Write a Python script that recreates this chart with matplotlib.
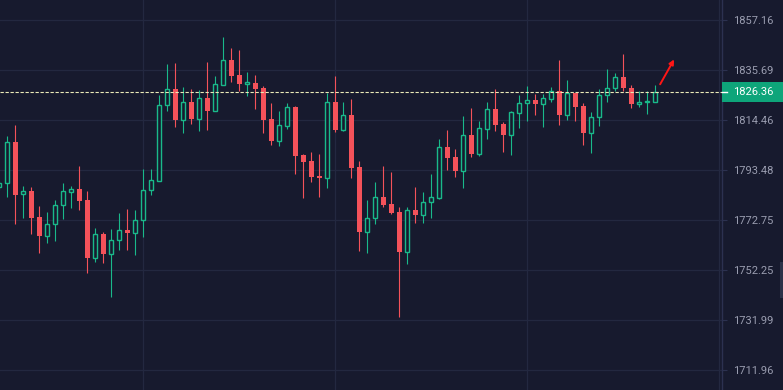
import numpy as np
import matplotlib
matplotlib.use("Agg")
import matplotlib.pyplot as plt
from matplotlib.patches import Rectangle
from matplotlib.ticker import NullLocator, FixedLocator, FixedFormatter

# ─── palette ─────────────────────────────────────────────────────────────────
C_BG    = "#171a2e"
C_GRID  = "#232840"
C_AXIS  = "#2c3150"
C_TEXT  = "#9a9db0"
C_UP    = "#19b98a"
C_DOWN  = "#f4525a"
C_LAST  = "#0ea57a"
FONT    = ["Roboto", "DejaVu Sans"]

# ─── data ────────────────────────────────────────────────────────────────────
candle_idx = list(range(-1, 82))
opens = [
    1786.3, 1788.0, 1805.1, 1783.4, 1784.6, 1774.0, 1766.3, 1771.0, 1778.8, 1784.5,
    1785.5, 1780.9, 1757.3, 1766.9, 1758.9, 1764.4, 1768.7, 1767.3, 1772.6, 1785.1,
    1789.0, 1820.7, 1827.5, 1814.6, 1822.0, 1815.0, 1823.8, 1818.4, 1829.4, 1840.0,
    1833.6, 1829.9, 1830.2, 1828.0, 1814.9, 1805.8, 1812.1, 1820.0, 1799.8, 1797.3,
    1791.1, 1790.3, 1822.1, 1810.4, 1816.6, 1794.7, 1768.0, 1773.4, 1782.3, 1779.4,
    1776.1, 1759.7, 1776.9, 1775.0, 1780.1, 1781.9, 1803.1, 1798.9, 1793.2, 1808.2,
    1800.3, 1810.8, 1819.1, 1812.8, 1808.3, 1817.6, 1821.5, 1822.9, 1821.4, 1823.5,
    1826.8, 1816.7, 1825.9, 1820.4, 1808.9, 1815.6, 1824.9, 1827.9, 1832.7, 1827.9,
    1821.4, 1822.0, 1822.0,
]
highs = [
    1788.9, 1807.8, 1812.4, 1786.8, 1786.4, 1778.5, 1776.2, 1781.0, 1788.0, 1786.8,
    1795.2, 1784.8, 1769.3, 1768.0, 1769.1, 1775.5, 1777.2, 1777.0, 1793.9, 1793.9,
    1824.9, 1838.3, 1838.7, 1828.5, 1827.5, 1827.1, 1839.1, 1833.1, 1850.0, 1845.1,
    1844.3, 1834.8, 1833.6, 1829.0, 1821.7, 1818.4, 1821.7, 1820.2, 1800.2, 1801.0,
    1800.2, 1825.9, 1833.1, 1822.1, 1823.4, 1797.4, 1781.0, 1788.5, 1795.2, 1792.8,
    1778.0, 1778.1, 1786.4, 1784.4, 1791.8, 1806.4, 1810.1, 1802.3, 1816.0, 1819.6,
    1814.2, 1822.0, 1827.6, 1813.7, 1818.4, 1825.1, 1829.0, 1825.4, 1825.6, 1828.5,
    1840.0, 1831.3, 1826.1, 1821.7, 1817.9, 1827.7, 1836.0, 1834.3, 1842.6, 1829.2,
    1826.6, 1826.6, 1829.4,
]
lows = [
    1785.2, 1782.4, 1771.0, 1773.7, 1767.1, 1759.3, 1763.2, 1764.0, 1773.3, 1777.9,
    1777.0, 1750.9, 1755.6, 1755.1, 1741.4, 1760.6, 1760.6, 1758.5, 1765.9, 1783.2,
    1788.8, 1818.4, 1811.6, 1809.1, 1812.9, 1810.0, 1810.3, 1818.2, 1829.2, 1830.7,
    1826.9, 1824.6, 1819.1, 1809.1, 1804.1, 1803.7, 1810.6, 1791.9, 1782.0, 1788.4,
    1782.4, 1786.1, 1809.6, 1810.0, 1790.0, 1760.2, 1759.3, 1771.1, 1778.3, 1775.4,
    1733.3, 1754.7, 1771.5, 1771.6, 1773.7, 1781.3, 1793.6, 1790.7, 1785.9, 1799.1,
    1799.5, 1806.6, 1810.0, 1801.2, 1799.9, 1811.2, 1814.2, 1816.6, 1811.6, 1822.2,
    1812.5, 1814.6, 1814.2, 1804.1, 1800.7, 1812.0, 1822.0, 1826.6, 1826.6, 1819.4,
    1819.9, 1817.0, 1821.9,
]
closes = [
    1788.0, 1805.1, 1783.2, 1784.6, 1773.7, 1766.3, 1771.0, 1778.8, 1784.6, 1785.5,
    1780.8, 1757.3, 1766.9, 1758.9, 1764.4, 1768.5, 1767.3, 1772.6, 1785.1, 1789.2,
    1820.7, 1827.5, 1814.6, 1822.0, 1815.0, 1823.7, 1818.3, 1829.7, 1840.0, 1833.3,
    1829.9, 1830.7, 1827.7, 1814.6, 1805.8, 1812.2, 1820.0, 1799.5, 1797.0, 1790.7,
    1790.3, 1822.1, 1810.4, 1816.5, 1794.4, 1768.0, 1773.4, 1782.2, 1779.1, 1775.8,
    1759.7, 1776.8, 1774.9, 1780.2, 1782.2, 1803.0, 1798.6, 1793.1, 1808.2, 1800.3,
    1811.0, 1819.1, 1812.4, 1808.3, 1817.9, 1821.5, 1822.9, 1821.4, 1823.8, 1826.8,
    1816.6, 1825.9, 1820.1, 1808.9, 1815.7, 1824.9, 1827.9, 1832.6, 1827.9, 1821.4,
    1822.0, 1822.5, 1826.36,
]
price_ticks = [1857.16, 1835.69, 1814.46, 1793.48, 1772.75, 1752.25, 1731.99, 1711.96]
last_price = 1826.36
time_grid = [16.92, 40.92, 64.92, 88.92]   # vertical session lines (candle index)


def make_figure(out):
    W, H = 783, 390
    fig = plt.figure(figsize=(W / 100, H / 100), dpi=100, facecolor=C_BG)
    ax = fig.add_axes([0, 0, 722 / W, 1])
    ax.set_facecolor(C_BG)

    # log price scale: ticks are 50 px apart
    ax.set_yscale("log")
    step = np.log(price_ticks[0] / price_ticks[-1]) / 350
    ax.set_ylim(price_ticks[-1] * np.exp(-20 * step), price_ticks[0] * np.exp(20 * step))
    ax.set_xlim(-7.33 / 8, (722 - 7.33) / 8)

    ax.yaxis.set_major_locator(FixedLocator(price_ticks))
    ax.yaxis.set_major_formatter(FixedFormatter([f"{v:.2f}" for v in price_ticks]))
    ax.yaxis.set_minor_locator(NullLocator())
    ax.yaxis.tick_right()
    ax.tick_params(axis="y", length=3.6, width=0.8, color=C_AXIS, colors=C_TEXT,
                   labelsize=8, pad=4)
    for lbl in ax.get_yticklabels():
        lbl.set_family(FONT)
    ax.set_xticks([])
    for s in ["top", "left", "bottom"]:
        ax.spines[s].set_visible(False)
    ax.spines["right"].set_color(C_AXIS)
    ax.spines["right"].set_linewidth(1.0)

    ax.grid(True, axis="y", color=C_GRID, linewidth=0.9, zorder=0)
    for gx in time_grid:
        ax.axvline(gx, color=C_GRID, linewidth=0.9, zorder=0)

    # ── candles ──────────────────────────────────────────────────────────────
    for x, o, h, l, c in zip(candle_idx, opens, highs, lows, closes):
        up = c >= o
        col = C_UP if up else C_DOWN
        ax.vlines(x, l, h, color=col, linewidth=0.8, zorder=2)
        lo, hi = min(o, c), max(o, c)
        if up:
            ax.add_patch(Rectangle((x - 0.23, lo), 0.46, hi - lo, facecolor=C_BG,
                                   edgecolor=col, linewidth=1.0, zorder=3))
        else:
            ax.add_patch(Rectangle((x - 0.28, lo), 0.56, max(hi - lo, 0.5),
                                   facecolor=col, edgecolor="none", zorder=3))

    # last price line + arrow
    ax.axhline(last_price, color="#ecebb8", linewidth=0.8, dashes=(3, 1.5), zorder=4)
    ax.annotate("", xy=(83.35, 1840.2), xytext=(81.6, 1829.6),
                arrowprops=dict(arrowstyle="-|>", color="#ff1616", lw=1.4,
                                mutation_scale=7, shrinkA=0, shrinkB=0), zorder=5)

    # last price badge on the axis
    y_last = ax.transData.transform((0, last_price))[1] / H
    fig.patches.append(Rectangle((722 / W, y_last - 10 / H), 61 / W, 20 / H,
                                 transform=fig.transFigure, facecolor=C_LAST,
                                 edgecolor="none", zorder=5))
    fig.lines.append(plt.Line2D([722 / W, 727 / W], [y_last, y_last],
                                transform=fig.transFigure, color="white", lw=1.0, zorder=6))
    fig.text(733 / W, y_last, f"{last_price:.2f}", color="white", fontsize=8,
             family=FONT, va="center", ha="left", zorder=6)

    # scroll tab at right edge
    fig.patches.append(Rectangle((780 / W, 1 - 298 / H), 3 / W, 36 / H,
                                 transform=fig.transFigure, facecolor="#2c3148",
                                 edgecolor="none"))

    fig.savefig(out, dpi=100, facecolor=C_BG)


if __name__ == "__main__":
    make_figure("out.png")
